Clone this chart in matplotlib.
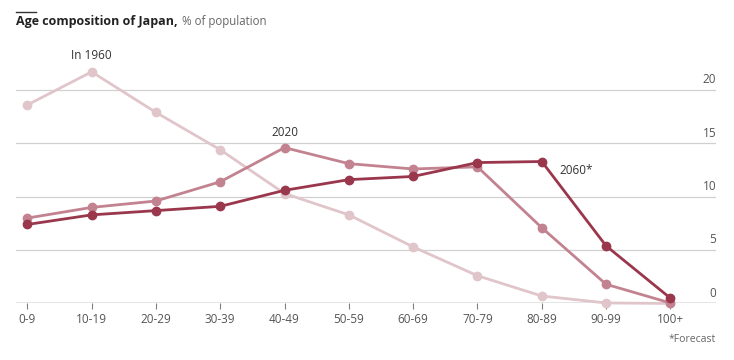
import numpy as np
import matplotlib
matplotlib.use("Agg")
import matplotlib.pyplot as plt

plt.rcParams['font.family'] = ['Open Sans', 'DejaVu Sans']

# age groups and % of population for each year
age_groups = ['0-9', '10-19', '20-29', '30-39', '40-49', '50-59',
              '60-69', '70-79', '80-89', '90-99', '100+']
pop_1960 = [18.6, 21.7, 17.9, 14.4, 10.3, 8.3, 5.3, 2.6, 0.7, 0.05, 0.0]
pop_2020 = [8.0, 9.0, 9.6, 11.4, 14.6, 13.1, 12.6, 12.8, 7.1, 1.8, 0.05]
pop_2060 = [7.4, 8.3, 8.7, 9.1, 10.6, 11.6, 11.9, 13.2, 13.3, 5.4, 0.5]
y_ticks = [0, 5, 10, 15, 20]

c1960 = '#e0c5ca'
c2020 = '#c3828f'
c2060 = '#9a374d'

fig = plt.figure(figsize=(7.34, 3.60), dpi=100)
ax = fig.add_axes([0.0218, 0.157, 0.9537, 0.682])

x = np.arange(len(age_groups))
for vals, col in [(pop_1960, c1960), (pop_2020, c2020), (pop_2060, c2060)]:
    ax.plot(x, vals, '-o', color=col, lw=2.0, ms=6, clip_on=False, zorder=3)

ax.set_xlim(-0.176, 10.71)
ax.set_ylim(0, 23)

# gridlines with labels sitting above them on the right
for t in y_ticks:
    if t == 0:
        ax.axhline(0, color='#7f7f7f', lw=1.0, zorder=2)
    else:
        ax.axhline(t, color='#d0d0d0', lw=0.9, zorder=1)
    ax.text(10.71, t + 0.95, str(t), ha='right', va='center',
            fontsize=8.5, color='#555555')

for s in ax.spines.values():
    s.set_visible(False)
ax.set_yticks([])
ax.set_xticks(x)
ax.set_xticklabels(age_groups, fontsize=8.5, color='#555555')
ax.tick_params(axis='x', length=4, width=0.8, color='#7f7f7f', pad=3)

# series labels
ax.text(1, 23.2, 'In 1960', ha='center', va='center', fontsize=8.5, color='#333333')
ax.text(4, 16.05, '2020', ha='center', va='center', fontsize=8.5, color='#333333')
ax.text(8.28, 12.5, '2060*', ha='left', va='center', fontsize=8.5, color='#333333')

# title
fig.add_artist(plt.Line2D([16/734, 36/734], [1 - 11.7/360, 1 - 11.7/360],
                          color='#333333', lw=1.0))
t1 = fig.text(16/734, 1 - 21/360, 'Age composition of Japan,', fontsize=9,
              fontweight='bold', color='#222222', ha='left', va='center')
fig.canvas.draw()
bb = t1.get_window_extent(fig.canvas.get_renderer())
fig.text(bb.x1 / fig.bbox.width + 4/734, 1 - 21/360, '% of population',
         fontsize=8.3, color='#666666', ha='left', va='center')

fig.text(716/734, 1 - 340/360, '*Forecast', fontsize=7.5, color='#666666',
         ha='right', va='center')

fig.savefig('out.png', dpi=100)
